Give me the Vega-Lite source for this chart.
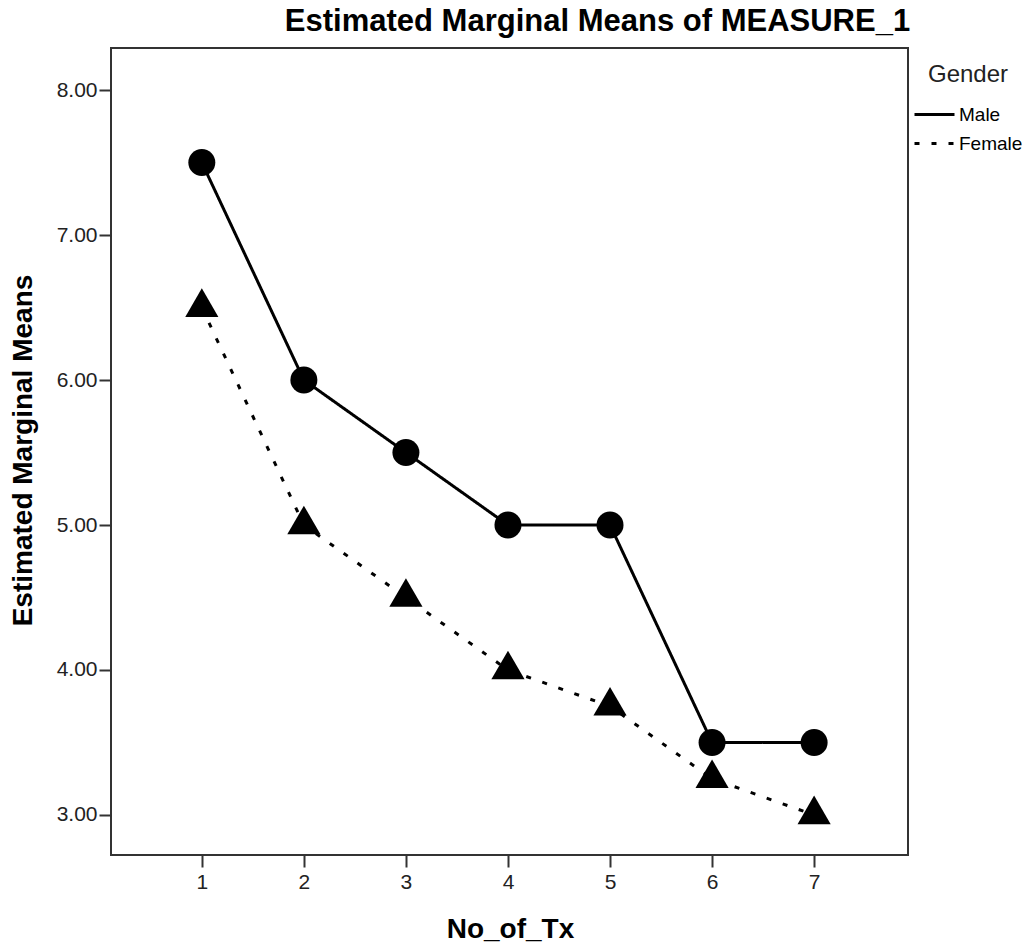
{
  "$schema": "https://vega.github.io/schema/vega-lite/v6.json",
  "width": 797,
  "height": 807,
  "autosize": {"type": "none"},
  "padding": {"left": 111, "top": 48, "right": 120, "bottom": 94},
  "background": "white",
  "title": {
    "text": "Estimated Marginal Means of MEASURE_1",
    "font": "Liberation Sans",
    "fontSize": 31,
    "fontWeight": "bold",
    "color": "black",
    "anchor": "middle",
    "dx": 88,
    "offset": 10
  },
  "config": {
    "view": {"stroke": "#333", "strokeWidth": 2},
    "axis": {"grid": false, "domain": false}
  },
  "data": {
    "values": [
      {"No_of_Tx": 1, "Gender": "Male", "mean": 7.5},
      {"No_of_Tx": 2, "Gender": "Male", "mean": 6.0},
      {"No_of_Tx": 3, "Gender": "Male", "mean": 5.5},
      {"No_of_Tx": 4, "Gender": "Male", "mean": 5.0},
      {"No_of_Tx": 5, "Gender": "Male", "mean": 5.0},
      {"No_of_Tx": 6, "Gender": "Male", "mean": 3.5},
      {"No_of_Tx": 7, "Gender": "Male", "mean": 3.5},
      {"No_of_Tx": 1, "Gender": "Female", "mean": 6.5},
      {"No_of_Tx": 2, "Gender": "Female", "mean": 5.0},
      {"No_of_Tx": 3, "Gender": "Female", "mean": 4.5},
      {"No_of_Tx": 4, "Gender": "Female", "mean": 4.0},
      {"No_of_Tx": 5, "Gender": "Female", "mean": 3.75},
      {"No_of_Tx": 6, "Gender": "Female", "mean": 3.25},
      {"No_of_Tx": 7, "Gender": "Female", "mean": 3.0}
    ]
  },
  "encoding": {
    "x": {
      "field": "No_of_Tx",
      "type": "quantitative",
      "scale": {"domain": [0.11, 7.92], "nice": false, "zero": false},
      "axis": {
        "values": [1, 2, 3, 4, 5, 6, 7],
        "format": "d",
        "title": "No_of_Tx",
        "titleFont": "Liberation Sans",
        "titleFontSize": 28,
        "titleFontWeight": "bold",
        "titleColor": "black",
        "titleX": 399,
        "titleY": 82,
        "titleBaseline": "alphabetic",
        "titleAlign": "center",
        "labelFont": "Liberation Sans",
        "labelFontSize": 21,
        "labelColor": "#222",
        "labelPadding": 4,
        "tickSize": 12,
        "tickWidth": 2,
        "tickColor": "#333"
      }
    },
    "y": {
      "field": "mean",
      "type": "quantitative",
      "scale": {"domain": [2.724, 8.29], "nice": false, "zero": false},
      "axis": {
        "values": [3, 4, 5, 6, 7, 8],
        "format": ".2f",
        "title": "Estimated Marginal Means",
        "titleFont": "Liberation Sans",
        "titleFontSize": 28,
        "titleFontWeight": "bold",
        "titleColor": "black",
        "titleX": -88,
        "titleY": 402,
        "titleAngle": 270,
        "titleBaseline": "middle",
        "titleAlign": "center",
        "labelFont": "Liberation Sans",
        "labelFontSize": 21,
        "labelColor": "#222",
        "labelPadding": 2,
        "tickSize": 12,
        "tickWidth": 2,
        "tickColor": "#333"
      }
    }
  },
  "layer": [
    {
      "mark": {"type": "line", "strokeWidth": 3, "color": "black"},
      "encoding": {
        "strokeDash": {
          "field": "Gender",
          "type": "nominal",
          "scale": {"domain": ["Male", "Female"], "range": [[1, 0], [5, 12]]},
          "legend": {
            "title": "Gender",
            "orient": "none",
            "legendX": 802,
            "legendY": 15,
            "direction": "vertical",
            "padding": 0,
            "titleFont": "Liberation Sans",
            "titleFontSize": 24,
            "titleFontWeight": "normal",
            "titleColor": "#222",
            "titleAnchor": "middle",
            "titlePadding": 14,
            "labelFont": "Liberation Sans",
            "labelFontSize": 19,
            "labelColor": "black",
            "symbolType": "stroke",
            "symbolSize": 1600,
            "symbolStrokeWidth": 3,
            "symbolStrokeColor": "black",
            "clipHeight": 27,
            "rowPadding": 2,
            "labelOffset": 3
          }
        }
      }
    },
    {
      "transform": [{"filter": "datum.Gender === 'Male'"}],
      "mark": {"type": "point", "shape": "circle", "filled": true, "color": "black", "opacity": 1, "size": 729}
    },
    {
      "transform": [{"filter": "datum.Gender === 'Female'"}],
      "mark": {"type": "point", "shape": "triangle-up", "filled": true, "color": "black", "opacity": 1, "size": 1100, "yOffset": -5}
    }
  ]
}
